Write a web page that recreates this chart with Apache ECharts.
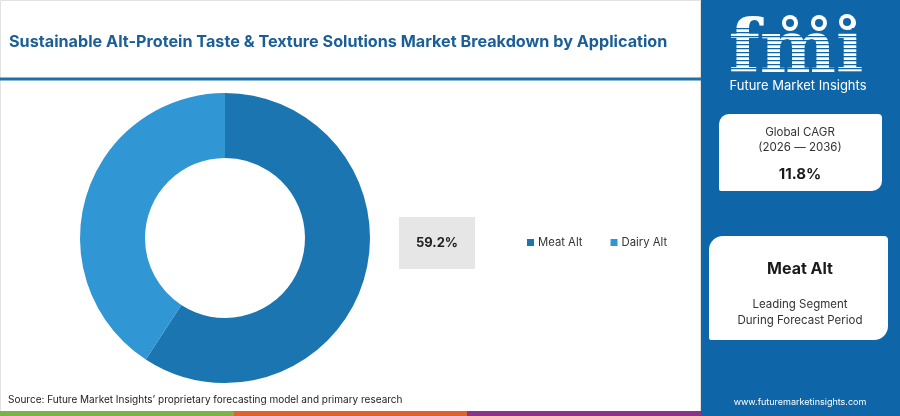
<!DOCTYPE html>
<html><head><meta charset="utf-8">
<script src="https://cdn.jsdelivr.net/npm/echarts@6/dist/echarts.min.js"></script>
<style>html,body{margin:0;padding:0;background:#fff}#c{width:900px;height:416px}</style>
</head><body><div id="c"></div>
<script>
var title = 'Sustainable Alt-Protein Taste & Texture Solutions Market Breakdown by Application';
var categories = ['Meat Alt', 'Dairy Alt'];
var shares = [59.2, 40.8];
var colors = ['#1b75b0', '#3196d4'];
var cagrLabel = ['Global CAGR', '(2026 \u2014 2036)'];
var cagrValue = '11.8%';
var leadingSegment = 'Meat Alt';
var source = 'Source: Future Market Insights\u2019 proprietary forecasting model and primary research';
var website = 'www.futuremarketinsights.com';

var chart = echarts.init(document.getElementById('c'), null, {renderer: 'canvas'});
var font = 'Inter, "Open Sans", sans-serif';
var blue = '#0e66a8';

var stripes = [];
for (var y = 28; y < 76; y += 4) {
  stripes.push({type: 'rect', shape: {x: 728, y: y, width: 140, height: 1.2}, style: {fill: blue}, z: 12});
}

var graphics = [
  {type: 'rect', shape: {x: 0.5, y: 0.5, width: 700, height: 411}, style: {fill: '#fff', stroke: '#e2e2e2', lineWidth: 1}, z: 0},
  {type: 'rect', shape: {x: 0, y: 77.5, width: 701, height: 3}, style: {fill: '#1f6fab'}, z: 2},
  {type: 'text', x: 9, y: 42, style: {text: title, fill: '#1b5e97', font: 'bold 16.2px ' + font, textVerticalAlign: 'middle'}, z: 2},
  {type: 'text', x: 8, y: 400, style: {text: source, fill: '#222', font: '10px ' + font, textVerticalAlign: 'middle'}, z: 2},
  {type: 'rect', shape: {x: 0, y: 411, width: 234, height: 5}, style: {fill: '#7bb443'}, z: 2},
  {type: 'rect', shape: {x: 234, y: 411, width: 233, height: 5}, style: {fill: '#e0622d'}, z: 2},
  {type: 'rect', shape: {x: 467, y: 411, width: 234, height: 5}, style: {fill: '#8a3488'}, z: 2},
  {type: 'rect', shape: {x: 701, y: 0, width: 199, height: 416}, style: {fill: blue}, z: 5},
  // logo
  {type: 'text', x: 796, y: 53, style: {text: 'fmi', fill: '#fff', font: 'bold 72px "DejaVu Serif", serif', textAlign: 'center', textVerticalAlign: 'middle'}, z: 11},
  {type: 'circle', shape: {cx: 790, cy: 23, r: 8}, style: {fill: '#fff'}, z: 13},
  {type: 'circle', shape: {cx: 819, cy: 23, r: 8}, style: {fill: '#fff'}, z: 13},
  {type: 'circle', shape: {cx: 847, cy: 22, r: 8}, style: {fill: '#fff'}, z: 13},
  {type: 'circle', shape: {cx: 790, cy: 23, r: 4}, style: {fill: blue}, z: 14},
  {type: 'circle', shape: {cx: 819, cy: 23, r: 4}, style: {fill: blue}, z: 14},
  {type: 'circle', shape: {cx: 847, cy: 22, r: 4}, style: {fill: blue}, z: 14},
  {type: 'text', x: 798, y: 86, style: {text: 'Future Market Insights', fill: '#fff', font: '13px ' + font, textAlign: 'center', textVerticalAlign: 'middle'}, z: 11},
  // card 1
  {type: 'rect', shape: {x: 719, y: 114, width: 163, height: 77, r: [10, 4, 10, 2]}, style: {fill: '#fff'}, z: 11},
  {type: 'text', x: 800, y: 133, style: {text: cagrLabel[0], fill: '#333', font: '11.5px ' + font, textAlign: 'center', textVerticalAlign: 'middle'}, z: 12},
  {type: 'text', x: 800, y: 148, style: {text: cagrLabel[1], fill: '#333', font: '11.5px ' + font, textAlign: 'center', textVerticalAlign: 'middle'}, z: 12},
  {type: 'text', x: 800, y: 174, style: {text: cagrValue, fill: '#1a1a1a', font: 'bold 15px ' + font, textAlign: 'center', textVerticalAlign: 'middle'}, z: 12},
  // card 2
  {type: 'rect', shape: {x: 709, y: 236, width: 179, height: 104, r: [14, 4, 14, 2]}, style: {fill: '#fff'}, z: 11},
  {type: 'text', x: 800, y: 269, style: {text: leadingSegment, fill: '#1a1a1a', font: 'bold 16px ' + font, textAlign: 'center', textVerticalAlign: 'middle'}, z: 12},
  {type: 'text', x: 800, y: 305, style: {text: 'Leading Segment', fill: '#333', font: '11.5px ' + font, textAlign: 'center', textVerticalAlign: 'middle'}, z: 12},
  {type: 'text', x: 800, y: 321, style: {text: 'During Forecast Period', fill: '#333', font: '11.5px ' + font, textAlign: 'center', textVerticalAlign: 'middle'}, z: 12},
  {type: 'text', x: 800, y: 402, style: {text: website, fill: '#fff', font: '9px ' + font, textAlign: 'center', textVerticalAlign: 'middle'}, z: 12},
  // highlight label box
  {type: 'rect', shape: {x: 399, y: 217, width: 76, height: 52}, style: {fill: '#e6e6e6'}, z: 3},
  {type: 'text', x: 437, y: 243, style: {text: shares[0].toFixed(1) + '%', fill: '#222', font: 'bold 13px ' + font, textAlign: 'center', textVerticalAlign: 'middle'}, z: 4}
].concat(stripes);

chart.setOption({
  animation: false,
  color: colors,
  legend: {
    data: categories, left: 522, top: 232, itemWidth: 7, itemHeight: 7, itemGap: 28, icon: 'rect',
    textStyle: {fontFamily: font, fontSize: 11.3, color: '#333', padding: [0, 0, 0, -1]}
  },
  graphic: graphics,
  series: [{
    type: 'pie', center: [225, 238], radius: [80, 145], startAngle: 90, clockwise: true,
    label: {show: false}, labelLine: {show: false}, silent: true, z: 3,
    data: categories.map(function (c, i) { return {name: c, value: shares[i]}; })
  }]
});
</script></body></html>
